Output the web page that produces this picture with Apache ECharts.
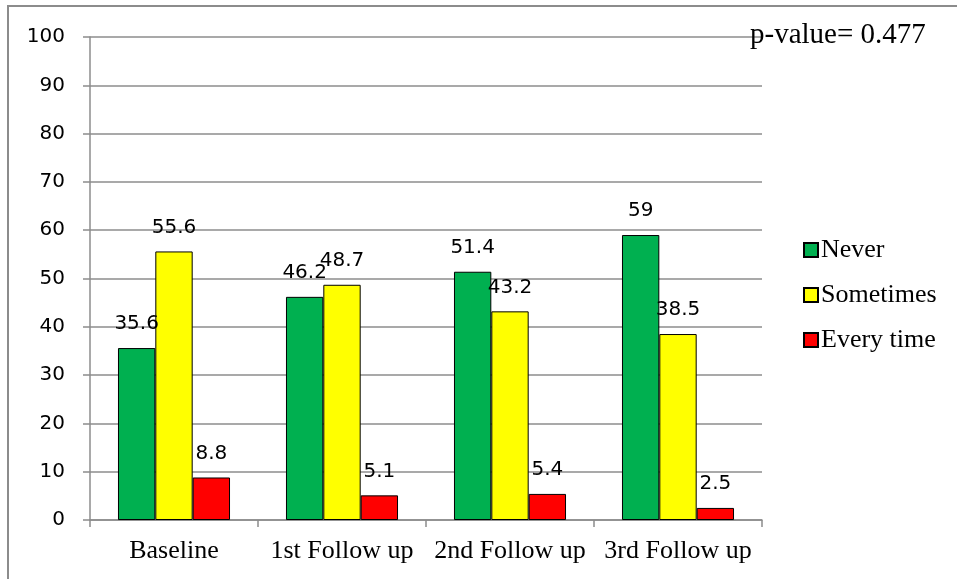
<!DOCTYPE html>
<html>
<head>
<meta charset="utf-8">
<script src="https://cdn.jsdelivr.net/npm/echarts@6/dist/echarts.min.js"></script>
<style>
  html, body { margin: 0; padding: 0; background: #fff; }
  #chart { width: 957px; height: 579px; }
</style>
</head>
<body>
<div id="chart"></div>
<script>
const categories = ["Baseline", "1st Follow up", "2nd Follow up", "3rd Follow up"];
const never = [35.6, 46.2, 51.4, 59];
const sometimes = [55.6, 48.7, 43.2, 38.5];
const everyTime = [8.8, 5.1, 5.4, 2.5];
const yTicks = [0, 100, 10]; // min, max, interval
const pValueText = "p-value= 0.477";

const serif = "Liberation Serif, Times New Roman, serif";
const sans = "DejaVu Sans, sans-serif";

function barSeries(name, data, color) {
  return {
    name: name,
    type: "bar",
    data: data,
    barGap: "0%",
    barCategoryGap: "33.3%",
    itemStyle: { color: color, borderColor: "#000", borderWidth: 1 },
    label: {
      show: true,
      position: "top",
      distance: 14,
      color: "#000",
      fontFamily: sans,
      fontSize: 20,
    },
  };
}

const chart = echarts.init(document.getElementById("chart"));
chart.setOption({
  animation: false,
  backgroundColor: "#fff",
  title: {
    text: pValueText,
    left: 750,
    top: 21,
    padding: 0,
    textStyle: { fontFamily: serif, fontSize: 29, fontWeight: "normal", color: "#000" },
  },
  legend: {
    orient: "vertical",
    left: 803,
    top: 237,
    padding: 0,
    icon: "rect",
    itemWidth: 14,
    itemHeight: 14,
    itemGap: 19,
    textStyle: { fontFamily: serif, fontSize: 26, color: "#000", padding: [0, 0, 0, -2] },
  },
  grid: { left: 90, right: 195, top: 37, bottom: 59 },
  xAxis: {
    type: "category",
    data: categories,
    axisLine: { lineStyle: { color: "#8c8c8c", width: 1.5 } },
    axisTick: { show: true, length: 7, interval: 0, lineStyle: { color: "#8c8c8c", width: 1.5 } },
    axisLabel: { interval: 0, margin: 18, fontFamily: serif, fontSize: 26, color: "#000" },
  },
  yAxis: {
    type: "value",
    min: yTicks[0],
    max: yTicks[1],
    interval: yTicks[2],
    axisLine: { show: true, lineStyle: { color: "#8c8c8c", width: 1.5 } },
    axisTick: { show: true, length: 7, lineStyle: { color: "#8c8c8c", width: 1.5 } },
    splitLine: { lineStyle: { color: "#8c8c8c", width: 1.5 } },
    axisLabel: { margin: 25, fontFamily: sans, fontSize: 20, color: "#000" },
  },
  series: [
    barSeries("Never", never, "#00B050"),
    barSeries("Sometimes", sometimes, "#FFFF00"),
    barSeries("Every time", everyTime, "#FF0000"),
  ],
  graphic: [
    {
      type: "rect",
      shape: { x: 8, y: 6, width: 960, height: 600 },
      style: { fill: "none", stroke: "#8c8c8c", lineWidth: 2 },
      silent: true,
    },
  ],
});
</script>
</body>
</html>
